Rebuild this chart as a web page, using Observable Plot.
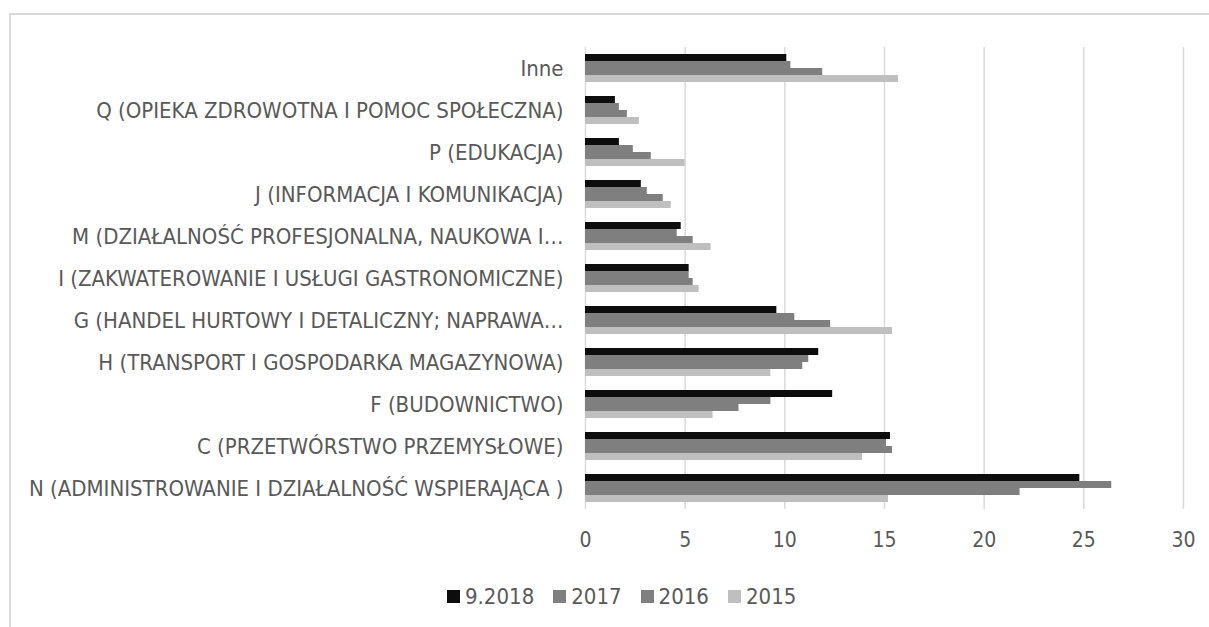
<!DOCTYPE html>
<html>
<head>
<meta charset="utf-8">
<script src="https://cdn.jsdelivr.net/npm/d3@7"></script>
<script src="https://cdn.jsdelivr.net/npm/@observablehq/plot@0.6"></script>
<style>
  html, body { margin: 0; padding: 0; background: #ffffff; }
  #wrap { position: relative; width: 1209px; height: 627px; overflow: hidden; background: #fff; }
  #frame { position: absolute; left: 9px; top: 13px; right: -10px; bottom: -10px;
           border-top: 2px solid #d9d9d9; border-left: 2px solid #d9d9d9; }
  #chart { position: absolute; left: 0; top: 0; }
  #legend { position: absolute; left: 447px; top: 584px; display: flex; align-items: center;
            font-family: "Liberation Sans Narrow", "DejaVu Sans Condensed", sans-serif;
            font-size: 22px; color: #595959; }
  .item { display: flex; align-items: center; margin-right: 19px; }
  .sw { width: 13px; height: 13px; margin-right: 5px; display: inline-block; }
</style>
</head>
<body>
<div id="wrap">
  <div id="frame"></div>
  <div id="chart"></div>
  <div id="legend"></div>
</div>
<script>
const categories = [
  "Inne",
  "Q (OPIEKA ZDROWOTNA I POMOC SPOŁECZNA)",
  "P (EDUKACJA)",
  "J (INFORMACJA I KOMUNIKACJA)",
  "M (DZIAŁALNOŚĆ PROFESJONALNA, NAUKOWA I…",
  "I (ZAKWATEROWANIE I USŁUGI GASTRONOMICZNE)",
  "G (HANDEL HURTOWY I DETALICZNY; NAPRAWA…",
  "H (TRANSPORT I GOSPODARKA MAGAZYNOWA)",
  "F (BUDOWNICTWO)",
  "C (PRZETWÓRSTWO PRZEMYSŁOWE)",
  "N (ADMINISTROWANIE I DZIAŁALNOŚĆ WSPIERAJĄCA )"
];
const seriesNames = ["9.2018", "2017", "2016", "2015"];
const seriesColors = ["#0d0d0d", "#7f7f7f", "#7f7f7f", "#bfbfbf"];
const values2018 = [10.1, 1.5, 1.7, 2.8, 4.8, 5.2, 9.6, 11.7, 12.4, 15.3, 24.8];
const values2017 = [10.3, 1.7, 2.4, 3.1, 4.6, 5.2, 10.5, 11.2, 9.3, 15.1, 26.4];
const values2016 = [11.9, 2.1, 3.3, 3.9, 5.4, 5.4, 12.3, 10.9, 7.7, 15.4, 21.8];
const values2015 = [15.7, 2.7, 5.0, 4.3, 6.3, 5.7, 15.4, 9.3, 6.4, 13.9, 15.2];
const xTicks = [0, 5, 10, 15, 20, 25, 30];

const seriesValues = [values2018, values2017, values2016, values2015];
const data = categories.flatMap((c, i) =>
  seriesNames.map((s, j) => ({ category: c, series: s, value: seriesValues[j][i] }))
);

const font = '"Liberation Sans Narrow", "DejaVu Sans Condensed", sans-serif';

const chart = Plot.plot({
  width: 1209,
  height: 565,
  marginLeft: 585,
  marginRight: 26,
  marginTop: 42,
  marginBottom: 52,
  style: { fontFamily: font, fontSize: "21px", color: "#595959", background: "transparent", overflow: "visible" },
  x: { domain: [0, 30] },
  fy: { domain: categories, padding: 0, label: null, axis: null },
  y: { domain: seriesNames, paddingInner: 0, paddingOuter: 0.9, axis: null },
  color: { domain: seriesNames, range: seriesColors },
  marks: [
    Plot.gridX(xTicks, { stroke: "#d9d9d9", strokeOpacity: 1, strokeWidth: 1.5 }),
    Plot.barX(data, { fy: "category", y: "series", x: "value", fill: "series" }),
    Plot.axisX({ ticks: xTicks, tickSize: 0, tickPadding: 23, label: null, fill: "#595959" }),
    Plot.axisFy({ anchor: "left", tickSize: 0, tickPadding: 22, label: null, fill: "#595959", fontSize: 22 })
  ]
});
document.getElementById("chart").appendChild(chart);

const legend = document.getElementById("legend");
seriesNames.forEach((s, i) => {
  const item = document.createElement("div");
  item.className = "item";
  const sw = document.createElement("span");
  sw.className = "sw";
  sw.style.background = seriesColors[i];
  const t = document.createElement("span");
  t.textContent = s;
  item.appendChild(sw);
  item.appendChild(t);
  legend.appendChild(item);
});
</script>
</body>
</html>
